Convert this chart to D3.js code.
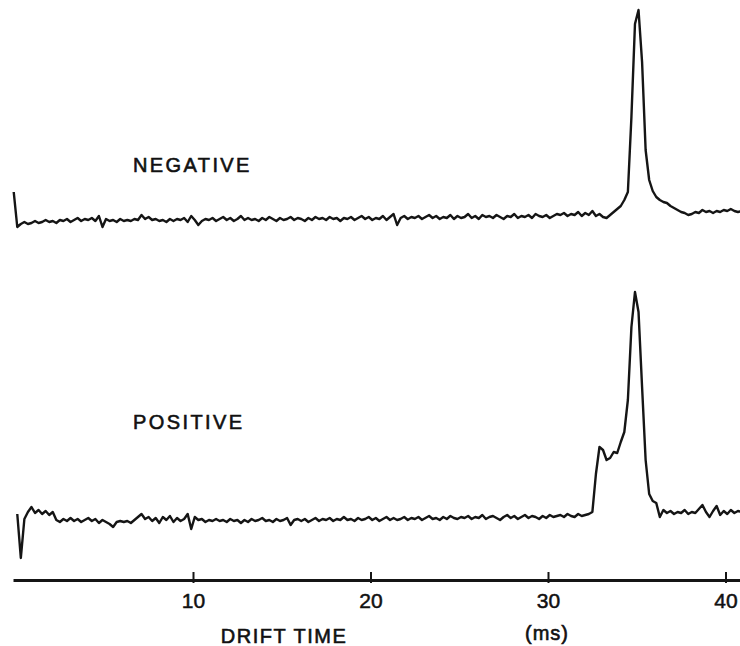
<!DOCTYPE html>
<html>
<head>
<meta charset="utf-8">
<script src="https://cdn.jsdelivr.net/npm/d3@7"></script>
<style>
  html, body { margin: 0; padding: 0; background: #fff; }
  svg { display: block; }
  text { font-family: "Liberation Sans", Arial, sans-serif; fill: #111; }
</style>
</head>
<body>
<div id="chart"></div>
<script>
// Drift-time spectra of negative and positive ions (arbitrary signal units).
// Each trace is sampled every 0.2 ms starting at the given time.
const sampleStep = 0.2;
const negativeStart = -0.1;
const positiveStart = 0.1;

const negativeSignal = [
  30, -5, -2, 0, -2, -1, 1, -1, 0, 2, 0, 1, -1, 2, 1, 3, 0, 2, 4, 1,
  3, 2, 4, 1, 6, -5, 3, 1, 2, 0, 3, 1, 2, 1, 3, 2, 7, 3, 5, 2,
  3, 1, 2, 0, 3, 1, 3, 2, 4, 0, 6, 2, -3, 1, 3, 2, 4, 1, 3, 5,
  2, 4, 1, 3, 6, 2, 4, 2, 3, 1, 4, 2, 5, 3, 1, 4, 2, 3, 5, 2,
  4, 3, 1, 4, 2, 5, 3, 4, 2, 5, 3, 4, 1, 4, 3, 5, 2, 4, 6, 3,
  5, 2, 4, 3, 6, 2, 5, 8, -3, 4, 6, 3, 5, 4, 6, 3, 5, 7, 4, 6,
  3, 5, 4, 7, 3, 6, 4, 5, 8, 4, 6, 3, 7, 5, 6, 4, 7, 5, 3, 6,
  5, 8, 4, 6, 5, 7, 4, 8, 6, 5, 7, 4, 6, 8, 7, 9, 6, 8, 7, 10,
  6, 9, 7, 11, 6, 8, 5, 4, 7, 10, 13, 16, 22, 30, 105, 198, 212, 160, 72, 42,
  31, 25, 22, 20, 19, 16, 14, 12, 10, 9, 7, 8, 10, 9, 12, 10, 11, 9, 11, 10,
  12, 11, 13, 11, 10, 11
];

const positiveSignal = [
  8, -36, 3, 10, 15, 9, 12, 8, 11, 7, 10, 2, 0, 3, 1, 4, 1, 3, 0, 2,
  4, 1, 3, -1, 2, 0, -2, -5, 0, 1, 0, 1, -1, 2, 5, 8, 3, 5, 1, 4,
  -1, 5, 2, 6, 0, 4, 1, 3, 8, -7, 5, 2, 3, 0, 2, 1, 3, 1, 2, 0,
  3, 1, 2, -1, 2, 0, 3, 1, 2, 4, 1, 2, 0, 3, 1, 2, 4, -3, 2, 3,
  1, 3, 0, 2, 4, 1, 3, 2, 4, 1, 3, 2, 5, 2, 3, 1, 4, 2, 3, 5,
  2, 4, 1, 3, 5, 2, 4, 2, 3, 5, 2, 4, 3, 5, 2, 4, 6, 3, 4, 2,
  5, 3, 6, 4, 3, 5, 4, 6, 3, 5, 4, 7, 3, 5, 6, 4, 2, 5, 7, 4,
  6, 3, 5, 7, 4, 6, 5, 3, 6, 4, 7, 5, 6, 7, 5, 8, 6, 5, 8, 6,
  7, 8, 10, 48, 75, 72, 62, 64, 70, 69, 80, 90, 122, 195, 230, 210, 135, 62, 28, 21,
  19, 5, 12, 9, 11, 8, 10, 9, 12, 8, 10, 9, 13, 17, 10, 5, 11, 16, 7, 11,
  8, 12, 9, 11, 10
];

const axisTicks = [10, 20, 30, 40];
const traceLabels = ["NEGATIVE", "POSITIVE"];

const width = 740, height = 646;

const svg = d3.select("#chart").append("svg")
  .attr("width", width).attr("height", height);

// Drift time (ms) to horizontal position
const x = d3.scaleLinear().domain([0, 40]).range([15.5, 725.5]);

// Signal scales: one panel per polarity, sharing the same gain
const yNeg = d3.scaleLinear().domain([0, 212]).range([222, 10]);
const yPos = d3.scaleLinear().domain([0, 232]).range([522, 290]);

const toPoints = (values, start) =>
  values.map((v, i) => ({ t: start + i * sampleStep, v }));

const traces = [
  { label: traceLabels[0], data: toPoints(negativeSignal, negativeStart), y: yNeg, labelAt: [133, 172] },
  { label: traceLabels[1], data: toPoints(positiveSignal, positiveStart), y: yPos, labelAt: [133, 429] }
];

traces.forEach(tr => {
  const line = d3.line()
    .x(d => x(d.t))
    .y(d => tr.y(d.v))
    .curve(d3.curveLinear);

  svg.append("path")
    .datum(tr.data)
    .attr("d", line)
    .attr("fill", "none")
    .attr("stroke", "#151515")
    .attr("stroke-width", 2.4)
    .attr("stroke-linejoin", "round");

  svg.append("text")
    .attr("x", tr.labelAt[0])
    .attr("y", tr.labelAt[1])
    .attr("font-size", 20)
    .attr("letter-spacing", 2.4)
    .attr("stroke", "#111")
    .attr("stroke-width", 0.6)
    .text(tr.label);
});

// Drift-time axis
const axisY = 580;
const axisScale = x.copy().domain([-0.14, 40.8]).range([x(-0.14), x(40.8)]);
const axis = d3.axisBottom(axisScale)
  .tickValues(axisTicks)
  .tickFormat(d3.format("d"))
  .tickSizeOuter(0)
  .tickSizeInner(0)
  .tickPadding(0);

const gAxis = svg.append("g")
  .attr("transform", `translate(0,${axisY})`)
  .call(axis);

gAxis.select(".domain")
  .attr("stroke", "#151515")
  .attr("stroke-width", 2.8);

gAxis.selectAll(".tick line")
  .attr("y1", -8)
  .attr("y2", 3)
  .attr("stroke", "#151515")
  .attr("stroke-width", 2);

gAxis.selectAll(".tick text")
  .attr("y", 28)
  .attr("dy", 0)
  .attr("font-size", 21)
  .attr("font-family", "Liberation Sans, Arial, sans-serif")
  .attr("fill", "#111")
  .attr("stroke", "#111")
  .attr("stroke-width", 0.5);

svg.append("text")
  .attr("x", 284)
  .attr("y", 643)
  .attr("text-anchor", "middle")
  .attr("font-size", 20)
  .attr("letter-spacing", 1.5)
  .attr("stroke", "#111")
  .attr("stroke-width", 0.6)
  .text("DRIFT TIME");

svg.append("text")
  .attr("x", 547)
  .attr("y", 640)
  .attr("text-anchor", "middle")
  .attr("font-size", 20)
  .attr("letter-spacing", 1)
  .attr("stroke", "#111")
  .attr("stroke-width", 0.6)
  .text("(ms)");
</script>
</body>
</html>
